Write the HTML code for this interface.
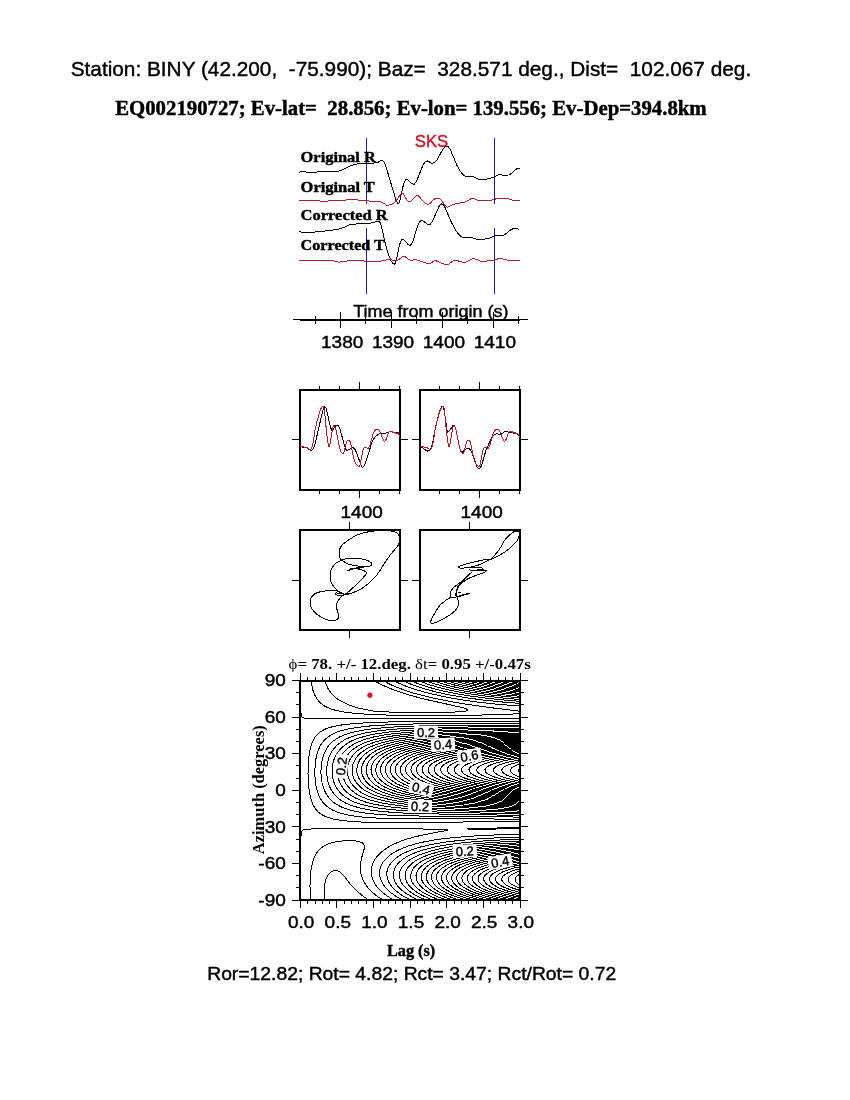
<!DOCTYPE html>
<html><head><meta charset="utf-8"><title>SKS splitting BINY</title>
<style>html,body{margin:0;padding:0;background:#fff}svg{display:block;will-change:transform}</style></head>
<body>
<svg width="850" height="1100" viewBox="0 0 850 1100">
<rect width="850" height="1100" fill="#fff"/>
<text x="70.7" y="75.9" xml:space="preserve" text-anchor="start" fill="#000" stroke="#000" stroke-width="0.42" style="font-family:'Liberation Sans',sans-serif;font-size:20.8px;white-space:pre" textLength="680.5" lengthAdjust="spacingAndGlyphs">Station: BINY (42.200,  -75.990); Baz=  328.571 deg., Dist=  102.067 deg.</text>
<text x="115.2" y="114.5" xml:space="preserve" text-anchor="start" fill="#000" stroke="#000" stroke-width="0.42" style="font-family:'Liberation Serif',serif;font-weight:bold;font-size:20.0px;white-space:pre" textLength="591.5" lengthAdjust="spacingAndGlyphs">EQ002190727; Ev-lat=  28.856; Ev-lon= 139.556; Ev-Dep=394.8km</text>
<g fill="none" stroke-width="1" shape-rendering="crispEdges">
<path d="M366.5,137.5V203.5M494.5,137.5V203.5M366.5,228V293.5M494.5,228V293.5" stroke="#2b1b9b"/>
<path d="M299.2,172.1 302.7,171.3 306.9,172.1 309.5,172.2 330,171.7 338,171.2 340.9,170.4 351,165.7 354.9,164.3 357.8,163.9 367.2,163.5 376.3,162.8 378.5,162.1 381.3,160.1 382.3,160.2 384.1,161.9 385.5,165.3 395.4,197.9 397.3,203 398.2,203.9 398.8,203.2 399.6,201.5 403.3,185.2 404.4,182 405.6,180 406.3,179.4 407.1,179.3 411.3,183.3 413.2,184.3 414.2,184.2 415.5,182.6 417,180 421.8,168 423.5,164.3 424.6,162.4 425.7,161.4 427.4,161 428.5,161.4 431.3,163.2 432.1,163.5 433,163.2 435,162 436.3,160.7 437.3,159.4 443,149 444.5,147.2 446.4,146 447.2,146 447.9,146.4 450,148.9 456.9,165.2 459.9,171 462.8,174.4 464.4,175.8 466,176.7 467.6,177 473.5,176.7 479.4,179.5 481,179.9 482.6,179.9 487,179 493.2,177.3 494.9,176.7 497,175.3 499.4,174.3 500.3,174.2 501.8,174.9 503.6,175.2 508.7,175 510.7,173.9 516.8,168.6 518.1,168.2 519.6,168.2" stroke="#000"/>
<path d="M299.2,231.7 304.1,232.7 307.6,232.7 323,231.3 334.1,229.9 340.8,228.6 345,226.9 348.3,225.2 350.4,224.6 358.3,223.8 368.3,223.8 377.8,221.1 379,221.1 379.6,221.8 380.5,223.6 381.3,226.1 386.3,247.4 387.9,252.8 391.1,260.9 392.6,263.2 394.1,264.3 394.4,264.3 394.9,263.7 396.2,260.8 399.2,245.8 400.3,242.6 401.8,239.8 402.5,239 403.3,239 408.3,244.7 409.6,245.4 410.6,245 411.9,243.3 412.9,241.2 417.5,226.4 418.4,224.1 419.6,222.1 420.7,220.8 421.8,220.4 422.6,220.8 427.3,224 429.1,224.5 430.2,224.2 431.5,222.6 433,220.1 439.2,206.1 440.2,204.6 441.6,204 442.8,204.2 444.3,205.8 450.9,221.4 456,230.9 459.5,235.2 461.1,236.7 462.8,237.6 466.7,238 471.6,237.4 476.6,239.1 480.7,239.3 484.5,239.1 490.5,237.9 494.2,235.8 495.2,235.5 502.8,235.2 504.3,234.9 506.5,233.3 509.8,230.4 511.4,229.5 513.8,228.5 514.9,228.3 516.5,228.5 518,229 519.6,230.2" stroke="#000"/>
<path d="M299.2,200.3 312.1,200.5 325,201.3 332,200.6 341.2,200.8 349.6,199.3 351.8,199.2 362,200.6 380.5,201.7 383,202.8 386.1,205 387.6,205.4 389,205.1 392.1,204 394.5,202.5 396.9,199.6 400.7,194.2 401.4,193.4 402,193 402.6,193.2 403.2,193.8 407,200 407.6,200.6 408.7,201.3 409.9,201.3 411.1,200.9 415.6,196.2 416.3,195.6 417,195.3 418.4,196 424.6,202.5 426.2,203.6 427.7,204.3 428.4,204.4 429.5,203.9 433.4,199.8 434.6,199 437.9,198.3 439,198.4 439.6,198.7 440.9,199.9 446.4,206.6 447.2,207.2 447.8,207.3 452.8,204.4 458,203.3 463,202.7 465.1,202.1 471,198.7 472.6,198.1 474,198.5 477.7,200.3 479.2,200.6 492.4,200 497.4,198.4 503.5,198.1 507.4,198.3 512.5,200.1 514.9,200.6 519.6,200.6" stroke="#b8182a"/>
<path d="M299.2,260.9 318.2,260.4 329.7,260.6 333.4,260.8 337.3,261.9 339.4,262.1 348.2,260.8 358.5,260.4 361.4,260.5 366.9,261.6 378.9,261.2 381.6,261 387.4,259.8 389.5,259.6 392,259.9 394.6,260.7 396.4,260.9 397.9,260.3 402.4,256.9 403.9,256.2 405.1,256.6 408.9,259.6 410.1,260.1 417.1,259.9 425.6,262.9 428.5,263.3 430.4,263.2 431.7,262.9 433.7,261 434.9,260.5 436,260.8 440.7,262.8 443.7,263.9 447.2,264.6 448.7,264.1 452.4,261.2 453.8,260.5 455.5,260.4 457.5,260.7 463,262.3 464.1,262.4 466.1,261.9 471.8,259.2 473.5,258.6 474.9,258.8 480.1,261.1 482.1,261.4 492.4,260.5 497.5,259 499.9,258.6 501.7,258.8 509.3,260.5 519.6,260.5" stroke="#b8182a"/>
</g>
<text x="300.6" y="161.8" xml:space="preserve" text-anchor="start" fill="#000" stroke="#000" stroke-width="0.42" style="font-family:'Liberation Serif',serif;font-weight:bold;font-size:15.4px;white-space:pre" textLength="75.2" lengthAdjust="spacingAndGlyphs">Original R</text>
<text x="300.6" y="191.8" xml:space="preserve" text-anchor="start" fill="#000" stroke="#000" stroke-width="0.42" style="font-family:'Liberation Serif',serif;font-weight:bold;font-size:15.4px;white-space:pre" textLength="74.2" lengthAdjust="spacingAndGlyphs">Original T</text>
<text x="300.6" y="219.7" xml:space="preserve" text-anchor="start" fill="#000" stroke="#000" stroke-width="0.42" style="font-family:'Liberation Serif',serif;font-weight:bold;font-size:15.4px;white-space:pre" textLength="87.1" lengthAdjust="spacingAndGlyphs">Corrected R</text>
<text x="300.6" y="249.6" xml:space="preserve" text-anchor="start" fill="#000" stroke="#000" stroke-width="0.42" style="font-family:'Liberation Serif',serif;font-weight:bold;font-size:15.4px;white-space:pre" textLength="84.3" lengthAdjust="spacingAndGlyphs">Corrected T</text>
<text x="414.8" y="147.3" xml:space="preserve" text-anchor="start" fill="#cc1428" stroke="#cc1428" stroke-width="0.42" style="font-family:'Liberation Sans',sans-serif;font-size:16.6px;white-space:pre" textLength="33.3" lengthAdjust="spacingAndGlyphs">SKS</text>
<text x="353.2" y="316.8" xml:space="preserve" text-anchor="start" fill="#000" stroke="#000" stroke-width="0.42" style="font-family:'Liberation Sans',sans-serif;font-size:17.2px;white-space:pre" textLength="155.3" lengthAdjust="spacingAndGlyphs">Time from origin (s)</text>
<g stroke="#000" fill="none" shape-rendering="crispEdges">
<path d="M292.5,319.5H528" stroke-width="1"/>
<path d="M300,320H520" stroke-width="2"/>
<path d="M315.5,316V324M340.5,312V328M365.5,316V324M391.5,312V328M416.5,316V324M442.5,312V328M467.5,316V324M493.5,312V328M518.5,316V324" stroke-width="1"/>
</g>
<text x="321" y="348" xml:space="preserve" text-anchor="start" fill="#000" stroke="#000" stroke-width="0.42" style="font-family:'Liberation Sans',sans-serif;font-size:16.4px;white-space:pre" textLength="42.3" lengthAdjust="spacingAndGlyphs">1380</text>
<text x="371.9" y="348" xml:space="preserve" text-anchor="start" fill="#000" stroke="#000" stroke-width="0.42" style="font-family:'Liberation Sans',sans-serif;font-size:16.4px;white-space:pre" textLength="42.3" lengthAdjust="spacingAndGlyphs">1390</text>
<text x="422.8" y="348" xml:space="preserve" text-anchor="start" fill="#000" stroke="#000" stroke-width="0.42" style="font-family:'Liberation Sans',sans-serif;font-size:16.4px;white-space:pre" textLength="42.3" lengthAdjust="spacingAndGlyphs">1400</text>
<text x="473.7" y="348" xml:space="preserve" text-anchor="start" fill="#000" stroke="#000" stroke-width="0.42" style="font-family:'Liberation Sans',sans-serif;font-size:16.4px;white-space:pre" textLength="42.3" lengthAdjust="spacingAndGlyphs">1410</text>
<rect x="300" y="390" width="100" height="99.5" fill="none" stroke="#000" stroke-width="2" shape-rendering="crispEdges"/>
<path d="M319.5,386V390M319.5,489.5V494.0M339.5,386V390M339.5,489.5V494.0M359.5,382V390M359.5,489.5V498.0M379.5,386V390M379.5,489.5V494.0M399.5,386V390M399.5,489.5V494.0M292,439.5H300M400,439.5H408" stroke="#000" stroke-width="1" fill="none" shape-rendering="crispEdges"/>
<text x="340.5" y="518.3" xml:space="preserve" text-anchor="start" fill="#000" stroke="#000" stroke-width="0.42" style="font-family:'Liberation Sans',sans-serif;font-size:16.4px;white-space:pre" textLength="42.3" lengthAdjust="spacingAndGlyphs">1400</text>
<rect x="300" y="530" width="100" height="99.5" fill="none" stroke="#000" stroke-width="2" shape-rendering="crispEdges"/>
<path d="M349.5,522V530M349.5,629.5V638M292,580.5H300M400,580.5H408" stroke="#000" stroke-width="1" fill="none" shape-rendering="crispEdges"/>
<rect x="420" y="390" width="100" height="99.5" fill="none" stroke="#000" stroke-width="2" shape-rendering="crispEdges"/>
<path d="M439.5,386V390M439.5,489.5V494.0M459.5,386V390M459.5,489.5V494.0M479.5,382V390M479.5,489.5V498.0M499.5,386V390M499.5,489.5V494.0M519.5,386V390M519.5,489.5V494.0M412,439.5H420M520,439.5H528" stroke="#000" stroke-width="1" fill="none" shape-rendering="crispEdges"/>
<text x="460.5" y="518.3" xml:space="preserve" text-anchor="start" fill="#000" stroke="#000" stroke-width="0.42" style="font-family:'Liberation Sans',sans-serif;font-size:16.4px;white-space:pre" textLength="42.3" lengthAdjust="spacingAndGlyphs">1400</text>
<rect x="420" y="530" width="100" height="99.5" fill="none" stroke="#000" stroke-width="2" shape-rendering="crispEdges"/>
<path d="M469.5,522V530M469.5,629.5V638M412,580.5H420M520,580.5H528" stroke="#000" stroke-width="1" fill="none" shape-rendering="crispEdges"/>
<g fill="none" stroke-width="1" shape-rendering="crispEdges">
<path d="M300,446.6 306.4,447.7 310.1,450 311,450.3 312.2,449.8 313.3,448.5 314.5,445.5 316,440 322.5,411.7 323.7,408.4 324.8,406.7 325.7,407.2 326.4,408.9 330.1,425.5 331,428.6 331.9,430.4 332.4,430.8 332.7,430.6 334.7,427 335.9,425.6 337.1,425 337.8,425.2 338.2,425.6 339.3,427.5 340.4,430.4 344.7,446.6 345.9,449.5 346.9,450.2 348.4,450 349.2,449.6 351.9,447.2 352.8,447.4 354.3,448.6 355.2,449.9 356.5,452.4 360.8,464.5 361.9,466.8 362.5,467.4 363.1,467.2 363.9,466.4 366,461.4 372.2,441.5 373.9,438.6 376.2,435.9 377.9,434.6 380.6,433.2 385.9,433.1 390.5,431.6 395.1,432.4 399.7,432.8" stroke="#000"/>
<path d="M300,446.6 306.4,447.3 310.2,449.6 310.8,449.3 311.9,447.8 312.8,444.4 315.1,429.6 316.8,422.1 320.2,410.2 321.4,407.7 322,406.8 322.6,406.4 323.4,406.7 324.3,408.9 326.9,435.6 328.1,443.7 329,446.9 329.2,446.9 329.5,446.3 330.4,442.1 332.7,427.8 333.3,426.1 333.8,425.3 334.2,425.2 334.9,426.4 335.7,428.5 339.3,446.9 340.9,452 342.2,453.5 342.7,453.5 343.4,453.1 344.2,451.3 345.9,444.1 346.8,441.5 347.4,440.5 347.9,440 349.1,440.3 350,441.5 350.8,443.8 353.4,456.7 354.6,461 356.2,464.3 357.6,465.9 358.5,466.6 359.2,466.5 360.2,464.5 362.7,450.9 363.3,449.1 364.2,447.8 365,447.2 365.7,447.3 368,448.5 368.7,448 369.9,445.2 373.3,433.4 374.5,431 375.7,429.7 377.4,429.3 378.5,429.6 379.1,430.1 380.6,433 383.3,440 383.9,441 384.4,441.5 385,441.2 385.9,439.8 388.4,432.7 389,431.9 389.7,431.5 391.2,431.6 398.2,433.9 398.7,434.4 399.7,437.4" stroke="#b8182a"/>
<path d="M420,446.6 422.1,447.5 425.7,450.2 427.4,451 427.9,451 429,450.5 430.9,448.2 432.3,444.4 435.6,427 438.3,415.4 440.3,409.1 441.3,407.2 442.2,406.4 442.8,406.6 443.3,407.4 444.2,410.3 447.1,430.2 447.5,431.9 447.8,432.5 450.1,429.8 452.8,425.8 453.6,425.2 454,425.4 454.9,427 455.9,429.5 459.3,446.9 460,449.3 460.9,451.4 461.5,452.1 462.3,452.1 466.2,449 467.8,448.4 468.9,448.5 470,449.3 471.1,450.8 471.9,452.3 476.2,465 477.3,467.3 478.4,468.3 480,468.1 481,466.6 482,464.1 485.7,451.1 486.9,448 491.5,438.4 492.9,436.2 494.4,434.7 495.9,433.9 496.8,433.6 500.1,434.8 500.6,434.7 503.6,432.3 505.7,431.5 509,432.4 514.4,433.3 517.2,434.2 518.2,434.7 519.7,436.9" stroke="#000"/>
<path d="M420,446.6 426.4,447.3 430.2,449.6 430.8,449.3 431.9,447.8 432.8,444.4 435.1,429.6 436.8,422.1 440.2,410.2 441.4,407.7 442,406.8 442.6,406.4 443.4,406.7 444.3,408.9 446.9,435.6 448.1,443.7 449,446.9 449.2,446.9 449.5,446.3 450.4,442.1 452.7,427.8 453.3,426.1 453.8,425.3 454.2,425.2 454.9,426.4 455.7,428.5 459.3,446.9 460.9,452 462.2,453.5 462.7,453.5 463.4,453.1 464.2,451.3 465.9,444.1 466.8,441.5 467.4,440.5 467.9,440 469.1,440.3 470,441.5 470.8,443.8 473.4,456.7 474.6,461 476.2,464.3 477.6,465.9 478.5,466.6 479.2,466.5 480.2,464.5 482.7,450.9 483.3,449.1 484.2,447.8 485,447.2 485.7,447.3 488,448.5 488.7,448 489.9,445.2 493.3,433.4 494.5,431 495.7,429.7 497.4,429.3 498.5,429.6 499.1,430.1 500.6,433 503.3,440 503.9,441 504.4,441.5 505,441.2 505.9,439.8 508.4,432.7 509,431.9 509.7,431.5 511.2,431.6 518.2,433.9 518.8,434.4 519.7,437.4" stroke="#b8182a"/>
<path d="M347.4,570.6 353,569.1 354.4,568.8 356.9,568.8 360.3,569.4 363.4,570.4 365.5,571.6 366.2,572.4 366.3,572.9 366.2,573.5 365.3,575.1 361.5,579.5 352.6,588.1 348.5,591.8 345.5,593.9 345.6,594.1 346.3,594.1 348.9,593.8 352.1,592.9 356.9,591.1 360.3,589.4 363.6,587.3 368.5,583.5 373,579.3 376.7,575.2 380.3,570 385,562.4 388.5,557.4 390.9,554.1 395.8,548.3 398.1,545.3 398.8,543.8 399.1,542.9 399.5,540.6 399.5,537.1 399,535.4 398.7,534.7 397.7,533.5 397,533 395.3,532.1 392.2,531.2 388.8,530.8 381.9,530.6 376.1,530.8 370.5,531.4 366.5,532.2 362.1,533.3 357.9,534.7 354,536.6 350.2,538.9 345.3,542.3 342.5,544.7 341.5,545.9 340.7,547.1 339.6,549.5 339,552.9 339,555.1 339.5,557.1 340.4,558.7 341.8,560.1 343.6,561.5 347.2,563.6 350,564.6 355.1,565.6 360.2,566.3 365,566.5 367.5,566.4 369.5,566.1 370.3,565.9 371.4,565.3 371.7,564.9 371.8,564.1 371.4,563.1 371,562.6 369.7,561.5 367.7,560.6 365.2,559.8 362.3,559.1 359,558.6 355.6,558.2 352.2,558.2 347.4,558.6 344.4,559.2 341.6,560 337.7,562 335.4,563.7 334.4,564.7 333.5,565.8 332,568.1 330.9,570.6 330.3,573.2 330,575.8 330.2,578.3 330.6,580.7 332,584.1 333.4,586.2 335,588.2 337,590.1 339.2,591.7 341.4,592.9 344.6,594.2 346.5,594.6 349.1,594.7 339.1,595.3 336.6,594.9 335.6,594.5 335.4,594.2 335.5,593.4 335.8,593.1 336.8,592.9 345.6,594.5" stroke="#000"/>
<path d="M349.1,594.1 344.9,594.4 343,595.1 341.6,596.2 340.3,597.6 339,599.4 337.8,601.3 337,603.4 336.5,606.6 336.7,608.6 337.9,612.4 338.6,615.7 338.5,617.6 337.7,619 336.4,620 334.6,620.6 332.3,620.7 329.7,620.4 325.4,619.2 321.4,617.3 317.8,615 315.7,613.1 313.7,611 312.1,608.8 311.5,607.8 311,606.7 310.4,604.6 310.2,601.4 310.5,599.2 310.9,598.2 312,596.4 313.5,594.8 314.4,594.1 315.4,593.5 317.7,592.5 321.8,591.4 328.5,590.6 331.8,590.4 334.9,590.5 337.3,590.9 340.3,592.4" stroke="#000"/>
<path d="M349.1,569.1 356.8,567.9 363.8,567.4M353,568H360" stroke="#000"/>
<path d="M455.5,596.5 456,592.7 457.2,589.2 459.5,585.6 460.5,584.5 463,582.1 466.3,579.7 468.2,578.6 470.5,577.5 484.2,572.5 485.2,571.9 486.6,570.3" stroke="#000"/>
<path d="M486.6,570.3 471.1,570.3 469.2,569.9 472.9,570.3 483.8,569.6 481.4,567.3 467.3,567.8 460.2,568.2 458.4,567.3 459.8,565.9" stroke="#000"/>
<path d="M459.8,565.9 471.1,562.6 484.2,559.8 490.8,559.3" stroke="#000"/>
<path d="M460.2,568.2 468.2,567.8 477.6,565.4 485.2,562.1 490.8,559.3" stroke="#000"/>
<path d="M490.8,559.3 495.3,554.5 498.5,550.6 501.2,546.6 503.9,541.5 505.6,539 509.8,534.9 512.4,532.7 513.6,531.9 515.7,531.1 517.5,531 518.2,531.2 518.7,531.5 519.1,532.6 519.2,534 519.1,535.6 518.4,538.6 517.6,540 515.3,542.8 509.2,548.6 505.9,551.3 504.1,552.5 496.5,556.9 490.8,559.3 484,562.5" stroke="#000"/>
<path d="M472,572 463.5,580 456.1,585.5 454.1,587.1 452.8,588.4 451.9,589.5 450.8,591.8 450.5,593.2 450.4,597.4" stroke="#000"/>
<path d="M470.6,572.9 462.1,581.7 458,586.3 457.4,587.5 456.8,589.6 456.3,593.3 456,596.9" stroke="#000"/>
<path d="M456,597 451.6,597.3 449.4,598 447.5,599.1 445.6,600.5 441.1,604.2 440,605.3 438.1,607.8 432.7,616.8 431.3,619.6 430.7,621.5 430.6,622.2 430.7,622.8 431,623.2 431.6,623.4 432.5,623.4 435.6,622.7 437.3,622 444.4,618.3 449.6,615.2 452.2,613.4 455.7,610.1 457.4,607.8 457.9,606.6 458.2,605.5 458.4,603.1 458.3,601.2 458.2,600.3 456,593" stroke="#000"/>
<path d="M469.6,592.9L457.4,596.5M469.6,593.4L458,597M458.4,592.5H461" stroke="#000"/>
</g>
<clipPath id="cc"><rect x="300.4" y="680.6" width="219.60000000000002" height="219.39999999999998"/></clipPath>
<path d="M325.1,900 324.2,894.5 324.1,889 324.6,884.2 326,879.3 327.8,875.5 329.7,873.2 331.5,871.7 333.3,870.8 335.2,870.5 337,870.6 338.8,871.3 340.7,872.5 342.5,874.2 344.3,876.4 350.4,884.2 356,890.2 361.6,895.1 368.6,900M374.1,680.6 380.7,684.3 388.2,687.7 395.6,690.6 404.7,693.7 415.7,696.8 426.7,699.6 461.7,707.4 465.9,708.6 467.8,709.9 465.5,711.1 454.1,712.1 439.5,712.6 423,712.8 395.6,712.3 384.6,711.8 373.8,711.1 362.6,709 357.1,707.7 353.5,706.6 349.2,705 341.6,701.3 337.4,698.9 334.2,696.4 330.8,692.8 328.3,689.1 326.1,684.3 325.1,680.6M310.9,900 310.3,893.9 310,886.6 310.1,879.3 310.7,872 311.7,865.9 313.2,860.3 314.9,856.1 316.9,852.7 319,850 321.7,847.6 324.2,845.9 328.4,843.9 333.3,842.4 337.8,841.5 344.3,840.8 349.8,840.6 355.3,840.9 359,841.6 360.8,842.2 362.6,843.1 363.5,843.9 364.2,845.1 364.5,846.4 364.2,848.8 361.4,858.6 360.4,864.7 360.3,868.3 360.5,870.7 361.1,874.4 361.8,876.8 363.3,880.5 364.6,882.9 367.1,886.6 369.1,889 372.8,892.7 375.7,895.1 379.1,897.6 383,900M520,713.7 497.7,714.7 472.4,715.2 439.5,715.6 410.2,715.5 388.2,715.1 369.9,714.4 356.3,713.5 344.3,712.1 337,710.7 333.3,709.7 329.7,708.4 327.3,707.4 324.2,705.8 322.4,704.5 320,702.5 318.7,701.2 316.9,698.8 315.5,696.4 314.3,694 313.2,691.1 312.3,687.9 310.9,680.6M383,680.6 387.5,683 392.6,685.5 398.5,687.9 404.7,690.2 412,692.6 419.3,694.7 434,698.2 452.3,701.9 468.8,704.6 492.6,707.9 520,711.2M300.5,900 300.7,840.3 301.2,833 301.5,831.7 302.2,830.5 304.1,829.6 305.8,829.3 311.4,829 360.8,828.8 412,828.9 441.3,829.2 446.3,829.3 446.8,829.5 447.8,830.5 443.1,831.1 440.4,831.7 435.8,832.4 423,834.9 412,837.6 404.7,839.8 401,841.1 393.7,844.2 390.1,846.1 386.4,848.3 383.9,850 380.9,852.5 378.4,854.9 376.3,857.3 374.6,859.8 373.3,862.2 372.4,864.7 371.5,868.3 371.2,870.7 371.4,874.4 372.2,878.1 373.1,880.5 374.3,882.9 376.8,886.6 378.8,889 381.3,891.5 384.2,893.9 387.5,896.3 393.7,900M520,718.8 327.8,718.8 309.5,718.6 305.9,718.3 304.1,718 302.2,717.1 301.5,715.9 301,713.5 300.6,705 300.5,680.6M393.7,680.6 398.5,683 404.1,685.5 415.7,689.6 428.5,693.2 445,696.9 459.6,699.5 477.9,702.1 498,704.3 520,706M520,834.4 496.2,834.9 472.4,836.1 454.1,837.5 437.6,839.4 424.8,841.7 413.9,844.3 408.4,846 404,847.6 399.2,849.6 395.6,851.5 391.9,853.8 388.2,856.6 385,859.8 383.1,862.2 381.7,864.7 380.2,868.3 379.6,872 379.8,875.6 380.6,879.3 382.3,882.9 383.8,885.4 386.9,889 390.9,892.7 394.2,895.1 398.1,897.6 402.7,900M520,721.4 430.3,721.5 404.7,721.7 382.8,722.1 366.3,722.8 351.6,723.8 340.7,725.1 333.3,726.5 329.7,727.5 326,728.8 322.4,730.6 320.5,731.7 318.7,733.2 316.9,734.9 315.4,736.7 313.9,739.1 312.6,741.5 311.3,745.2 310.3,748.9 309.5,752.5 308.8,757.4 308.4,762.3 308,773.2 308.4,784.2 309.5,792.7 310.2,796.4 311.2,800.1 312.5,803.7 313.7,806.1 315.2,808.6 316.9,810.6 318.5,812.2 320.5,813.8 322.4,814.9 326,816.7 329.7,818 333.3,819 340.7,820.3 351.6,821.5 364.4,822.2 379.1,822.6 408.4,822.7 479.7,821.8 520,821.8M402.7,680.6 412,684.7 423,688.4 435.8,691.9 448.6,694.7 463.3,697.3 479.7,699.6 499.9,701.8 520,703.4M520,837.1 496.2,837.9 477.9,838.9 457.8,840.6 443.1,842.4 430.3,844.7 419.3,847.3 410.2,850.4 405.3,852.5 401,854.7 397,857.3 394,859.8 391.6,862.2 389,865.9 387.9,868.3 386.9,872 386.8,874.4 387.3,878.1 388.6,881.7 390,884.2 392.8,887.8 395.3,890.2 398.3,892.7 401.8,895.1 405.9,897.6 410.8,900M520,723.4 441.3,723.6 417.5,723.9 399.2,724.4 382.8,725.1 368.1,726.1 355.3,727.7 346.1,729.4 341.5,730.6 337.8,731.8 334.8,733 331.5,734.7 328.4,736.7 326,738.6 324.2,740.4 322.2,742.8 320.6,745.2 319.4,747.6 317.9,751.3 316.8,755 316,758.6 315.3,763.5 314.8,772 315.2,780.5 315.9,785.4 316.7,789.1 317.8,792.7 319.3,796.4 320.5,798.8 322.1,801.3 324.1,803.7 326,805.6 328.2,807.4 331.5,809.5 337,812 344.3,814.2 351.6,815.7 362.6,817.1 373.6,817.9 388.2,818.5 412,818.9 479.7,818.9 520,819.2M410.8,680.6 419.7,684.3 430.3,687.7 441.3,690.6 454.1,693.3 468.8,695.8 485.2,698 501.7,699.8 520,701.3M520,839.3 499.9,840 479.7,841.2 461.4,842.9 446.8,844.8 434,847.2 423,850 417.5,851.8 413.9,853.3 410.2,854.9 405.7,857.3 402.2,859.8 399.3,862.2 397.1,864.7 395.5,867.1 394.3,869.5 393.4,873.2 393.3,875.6 394,879.3 395,881.7 397.2,885.4 399.3,887.8 401.9,890.2 405,892.7 408.8,895.1 413.2,897.6 418.4,900M520,725.1 446.8,725.5 424.8,725.8 406.5,726.4 390.1,727.2 375.4,728.5 364.4,729.9 354.5,731.8 346.1,734.2 342.5,735.6 338.8,737.4 336,739.1 333.3,741 331.4,742.8 329.1,745.2 327.3,747.6 325.2,751.3 324.1,753.7 322.9,757.4 322,761 321.4,764.7 320.9,772 321.1,775.7 321.5,779.3 322.1,783 323.1,786.6 324.4,790.3 325.6,792.7 327,795.2 328.8,797.6 331,800.1 333.3,802.1 335.5,803.7 338.8,805.7 342.3,807.4 345.4,808.6 349.8,810 354,811 362.6,812.7 371.8,813.8 384.6,814.9 397.4,815.5 423,816.1 485.2,816.6 520,817.1M418.4,680.6 428,684.3 437.6,687.2 448.6,689.9 459.6,692.1 472.4,694.3 487.1,696.3 503.5,698.1 520,699.5M520,841.1 498,842.1 479.7,843.4 463.3,845 448.6,847.1 435.8,849.7 426,852.5 417.5,855.7 413.9,857.4 410.2,859.6 406.6,862.2 404,864.7 402.1,867.1 400.7,869.5 399.8,872 399.4,874.4 399.7,878.1 400.4,880.5 402.4,884.2 404.3,886.6 406.7,889 409.7,891.5 413.3,893.9 417.5,896.3 425.6,900M520,726.7 452.3,727.1 432.2,727.5 413.9,728.1 397.4,729 384.6,730.1 373.6,731.5 362.6,733.5 353.5,736.1 349.8,737.4 346.1,739.1 343.8,740.3 340.7,742.3 338.4,744 335.8,746.4 333.7,748.9 332,751.3 330.6,753.7 329,757.4 328.2,759.8 327.4,763.5 326.9,767.1 326.7,770.8 326.8,774.5 327.2,778.1 328,781.8 328.7,784.2 330.2,787.9 331.5,790.3 333.1,792.7 335,795.2 337.5,797.6 340.6,800.1 346.1,803.3 349.8,804.9 353.3,806.1 360.8,808.2 369.9,810 379.1,811.2 391.9,812.3 404.7,813.1 432.2,813.9 520,815.4M425.6,680.6 434,683.6 443.1,686.3 454.1,689 465.1,691.2 477.9,693.2 490.7,695 505.4,696.5 520,697.8M520,842.8 499.9,843.8 481.6,845.2 465.1,846.9 452.3,848.9 440.8,851.2 430.3,854.2 422.1,857.3 419.3,858.7 415.3,861 412,863.4 409.4,865.9 407.5,868.3 406.2,870.7 405.4,873.2 405.1,875.6 405.6,879.3 406.6,881.7 408,884.2 410,886.6 412.5,889 415.7,891.5 419.5,893.9 424.1,896.3 432.6,900M520,728.1 454.1,728.7 434,729.2 417.5,729.8 401,730.9 388.2,732.1 377.3,733.6 368.1,735.4 359.3,737.9 353,740.3 349.8,741.9 346.4,744 341.8,747.6 339.5,750.1 337.6,752.5 336.1,755 334.9,757.4 333.9,759.8 332.9,763.5 332.3,767.1 332.1,770.8 332.3,774.5 332.6,776.9 333.4,780.5 334.2,783 335.3,785.4 337,788.5 338.8,791 340.7,793.1 342.8,795.2 346,797.6 351.6,800.8 355.3,802.4 359,803.7 366.3,805.7 375.4,807.6 384.6,808.9 397.4,810.1 410.2,810.9 439.5,812.1 520,813.9M432.6,680.6 439.7,683 448.6,685.6 457.8,687.8 468.8,690 479.7,691.8 492.6,693.5 505.4,695 520,696.3M520,844.4 499.9,845.5 483.4,846.8 468.8,848.5 455.9,850.4 445,852.7 439.5,854.2 434,855.9 426.7,858.8 422.3,861 419.3,862.8 416.9,864.7 414.4,867.1 412.6,869.5 411.4,872 410.8,874.4 410.7,876.8 411.1,879.3 412,881.7 413.5,884.2 415.6,886.6 418.2,889 421.5,891.5 425.5,893.9 430.3,896.3 439.5,900M520,729.4 459.6,730.1 439.5,730.6 423,731.3 406.5,732.4 393.7,733.7 382.8,735.2 373.6,737 365.9,739.1 359,741.6 355.3,743.4 352.1,745.2 349.8,746.7 347.2,748.9 344.7,751.3 342.7,753.7 341.2,756.2 339.9,758.6 338.9,761 337.9,764.7 337.5,767.1 337.3,770.8 337.5,774.5 337.9,776.9 339.4,781.8 340.6,784.2 342,786.6 343.8,789.1 346.1,791.6 350.6,795.2 353.5,796.9 357.1,798.8 364.4,801.7 373.6,804.1 382.8,805.8 391.9,807.1 402.9,808.2 417.5,809.2 446.8,810.4 520,812.4M439.5,680.6 447.1,683 455.9,685.4 465.1,687.4 474.2,689.2 485.2,690.9 496.2,692.4 520,694.8M520,845.8 501.7,846.9 485.2,848.3 470.6,850.1 457.8,852.2 446.8,854.6 437.6,857.4 434,858.8 429.1,861 426.7,862.3 423.2,864.7 421.2,866.3 419.2,868.3 417.5,870.7 416.5,873.2 416,875.6 416.1,878.1 416.8,880.5 418,882.9 419.8,885.4 422.2,887.8 425.3,890.2 428.5,892.3 432.2,894.3 436.5,896.3 446.2,900M520,730.6 461.4,731.5 443.1,732 426.7,732.8 412,733.8 399.2,735.1 388.2,736.6 379.1,738.4 369.9,740.9 362.6,743.7 357.1,746.5 352.2,750.1 349.6,752.5 347.6,755 345.9,757.4 344.7,759.8 343.7,762.3 343,764.7 342.5,767.1 342.3,770.8 342.6,774.5 343.1,776.9 343.9,779.3 344.9,781.8 346.3,784.2 348,786.6 351.6,790.4 356.4,794 359,795.5 362.6,797.2 370.2,800.1 379.1,802.4 388.2,804.1 397.4,805.4 410.2,806.7 423,807.6 454.1,809 520,811.1M446.2,680.6 454.1,683 461.4,684.8 468.8,686.4 477.9,688.2 487.1,689.6 498,691.1 520,693.5M520,847.2 503.5,848.3 487.1,849.8 472.4,851.6 460.5,853.7 450,856.1 441.3,858.8 437.6,860.3 433.5,862.2 430.3,864 427.7,865.9 426.2,867.1 423.9,869.5 422.3,872 421.5,874.4 421.2,876.8 421.5,879.3 422.5,881.7 424,884.2 426.2,886.6 429.1,889 434.8,892.7 442.6,896.3 452.9,900M520,731.8 465.1,732.8 446.8,733.4 432.2,734 417.5,735 404.7,736.3 393.7,737.8 384.6,739.6 375.4,742 368.1,744.6 362.1,747.6 359,749.7 356.8,751.3 353.1,755 351.3,757.4 349.8,759.8 348.7,762.3 348,764.7 347.5,767.1 347.2,770.8 347.4,773.2 347.9,775.7 348.6,778.1 349.7,780.5 351,783 352.9,785.4 356.5,789.1 359,791 361.7,792.7 364.4,794.2 368.1,795.9 375.4,798.6 382.8,800.5 391.9,802.3 401.4,803.7 413.9,805 426.7,806.1 457.8,807.6 520,809.8M452.9,680.6 459.6,682.5 466.8,684.3 481.6,687.2 499.9,689.9 520,692.1M520,848.6 503.5,849.8 488.2,851.2 474.2,853.1 463.3,855.1 453.8,857.3 445,860.2 441.3,861.7 437.6,863.4 434,865.6 432,867.1 430.3,868.6 428.5,870.7 427.1,873.2 426.4,875.6 426.4,878.1 427,880.5 428.3,882.9 429.2,884.2 431.4,886.6 434.4,889 440.4,892.7 448.6,896.3 454.1,898.3 459.7,900M520,733 466.9,734 448.6,734.7 434,735.4 421.2,736.4 408.4,737.7 397.4,739.3 388.2,741.1 379.1,743.5 371.8,746.3 366.3,749 361.2,752.5 357.5,756.2 355.7,758.6 354.3,761 353.2,763.5 352.5,765.9 352.1,768.4 352.1,770.8 352.3,773.2 352.8,775.7 353.7,778.1 354.9,780.5 357.5,784.2 361.2,787.9 366.3,791.3 371.8,794.1 379.1,796.8 388.2,799.2 397.4,801 406.5,802.3 417.5,803.5 430.3,804.6 461.4,806.4 520,808.6M459.7,680.6 472.4,683.8 485.2,686.3 501.7,688.8 520,690.8M520,849.9 503.5,851.2 488.9,852.7 476.1,854.6 465.1,856.7 454.1,859.5 446.7,862.2 443.1,863.9 439.5,865.9 435.8,868.7 433.9,870.7 432.3,873.2 431.8,874.4 431.4,876.8 431.7,879.3 432.6,881.7 434,883.8 435.3,885.4 437.6,887.5 439.7,889 443.7,891.5 446.8,893.1 454.7,896.3 459.6,898 466.5,900M520,734.1 468.8,735.3 452.3,735.9 437.6,736.7 424.8,737.6 412,739 402.7,740.3 393.7,742 385.9,744 378.6,746.4 373.1,748.9 369.9,750.6 367,752.5 362.8,756.2 359.9,759.8 358.6,762.3 357.7,764.7 357.1,767.1 356.8,769.6 356.9,772 357.4,774.5 358.2,776.9 359,778.6 360.1,780.5 361.9,783 365.8,786.6 368.1,788.4 371.3,790.3 376.3,792.7 382.9,795.2 391.8,797.6 401,799.5 410.2,800.9 421.2,802.1 434,803.3 465.1,805.1 520,807.5M466.5,680.6 477.9,683.3 490.7,685.7 505.4,687.9 520,689.5M520,851.2 504.9,852.5 490.7,854 477.9,856 466.9,858.2 457.8,860.7 450.4,863.4 446.8,865.2 443.6,867.1 441.9,868.3 439.5,870.5 438.3,872 437,874.4 436.6,875.6 436.5,878.1 437.1,880.5 438.4,882.9 440.4,885.4 441.7,886.6 445,889 446.9,890.2 450.5,892.1 454.4,893.9 463.3,897.2 473.4,900M520,735.1 472.4,736.4 455.9,737 441.3,737.8 428.5,738.8 415.7,740.2 406.5,741.6 397.4,743.3 390,745.2 382.7,747.6 377.1,750.1 373.6,752.1 371.1,753.7 367,757.4 364.2,761 362.5,764.7 361.8,767.1 361.6,769.6 361.7,772 362.2,774.5 363.7,778.1 366.3,781.8 370.1,785.4 375.4,788.9 380.8,791.5 388.2,794.2 396.5,796.4 404.7,798.1 413.9,799.5 424.8,800.8 437.6,802 468.8,804 520,806.4M473.4,680.6 483.4,682.9 494.4,684.9 506.7,686.7 520,688.3M520,852.5 505.4,853.8 490.7,855.6 479.7,857.4 468.6,859.8 460.3,862.2 455.9,863.8 452.3,865.5 447.5,868.3 445,870.5 443.6,872 442.8,873.2 441.7,875.6 441.5,878.1 442,880.5 443.1,882.6 444.3,884.2 446.8,886.5 448.4,887.8 452.3,890.2 454.6,891.5 461.4,894.4 470.6,897.5 480.4,900M520,736.2 474.2,737.5 445,739 432.2,740 421.2,741.2 412,742.5 402.9,744.1 395.6,745.9 388.2,748.2 382.8,750.5 376.8,753.7 375.1,755 372.2,757.4 369.1,761 367.2,764.7 366.6,767.1 366.3,769.6 366.4,772 367,774.5 368.7,778.1 371.6,781.8 375.4,785.1 379.9,787.9 386.4,790.9 393.7,793.4 400.7,795.2 410.2,797.1 419.3,798.5 430.3,799.8 441.3,800.8 470.6,802.8 520,805.3M480.4,680.6 488.9,682.4 499.4,684.3 509,685.7 520,687M520,853.8 505.4,855.2 492.6,856.9 481.6,858.7 471.6,861 463.3,863.6 459.6,865 455.9,866.8 451.6,869.5 450.1,870.7 448,873.2 447.3,874.4 446.6,876.8 446.5,878.1 447.1,880.5 448.4,882.9 449.4,884.2 452,886.6 453.7,887.8 455.9,889.2 460.2,891.5 466.9,894.2 477.5,897.6 487.6,900M520,737.2 476.1,738.6 446.8,740.2 435.8,741.1 424.8,742.3 415.7,743.6 406.5,745.3 399.2,747.1 391.9,749.4 386.4,751.7 380.7,755 379,756.2 376.2,758.6 375.1,759.8 373.3,762.3 371.6,765.9 371,769.6 371.5,773.2 373,776.9 375.7,780.5 377.3,782 380,784.2 384.6,787 390.1,789.5 397.4,792 404.7,794 413.9,795.8 423,797.3 434,798.6 445,799.7 474.2,801.8 520,804.2M487.6,680.6 501.7,683.2 520,685.8M520,855.1 507.2,856.4 494.4,858.1 483.4,860.1 474.2,862.3 466.9,864.7 463.3,866.2 459.6,868 455.6,870.7 454.1,872.2 452.5,874.4 452,875.6 451.6,878.1 452.1,880.5 452.7,881.7 454.1,883.7 455.7,885.4 457.8,887 460.9,889 465.1,891.2 468.7,892.7 475.6,895.1 484.2,897.6 495.1,900M520,738.2 477.9,739.7 450.5,741.3 439.5,742.2 428.5,743.4 419.3,744.7 410.3,746.4 402.9,748.2 395.6,750.6 390.1,752.9 384.5,756.2 380.9,759.1 378.2,762.3 377.3,763.9 376.4,765.9 376.1,767.1 375.8,769.6 376,772 376.3,773.2 377.3,775.7 378,776.9 379.1,778.4 380.9,780.5 384,783 388.2,785.7 393.7,788.2 401,790.8 408.4,792.8 415.7,794.3 424.8,795.8 435.8,797.3 446.8,798.4 474.2,800.6 520,803.2M495.1,680.6 507.2,682.7 520,684.5M520,856.4 507.2,857.8 494.4,859.7 485.2,861.5 476.1,863.9 468.8,866.6 465.1,868.3 463,869.5 459.6,872.2 457.8,874.4 457.2,875.6 456.8,876.8 456.8,879.3 457.8,881.7 458.6,882.9 460.9,885.4 462.5,886.6 466.4,889 470.6,891.1 474.2,892.6 481.9,895.1 491.1,897.6 502.9,900M520,739.2 479.7,740.8 452.3,742.4 441.3,743.4 430.3,744.7 421.2,746.1 413.9,747.5 406.5,749.4 400.4,751.3 394.5,753.7 390.1,756.2 386.4,758.8 384.6,760.6 383.2,762.3 382.4,763.5 381.2,765.9 380.8,767.1 380.5,769.6 380.8,772 381.1,773.2 382.2,775.7 383.9,778.1 385.1,779.3 388.2,782 391.9,784.3 397.4,787 403.1,789.1 412,791.6 419.3,793.2 428.5,794.7 439.5,796.2 450.5,797.4 477.9,799.6 520,802.1M502.9,680.6 520,683.3M520,857.7 507.2,859.3 496.2,861 485.2,863.4 477.9,865.6 471.2,868.3 467,870.7 464.1,873.2 463.2,874.4 462.5,875.6 462.1,876.8 461.9,878.1 462,879.3 462.3,880.5 463.3,882.2 464.8,884.2 466.9,885.9 469.7,887.8 474.4,890.2 480.5,892.7 488.9,895.3 498.2,897.6 511,900M520,740.2 481.6,741.8 455.9,743.4 445,744.4 434,745.8 424.8,747.2 417.5,748.6 410.2,750.5 403.8,752.5 398.1,755 393.8,757.4 390.1,760.3 388.2,762.3 387.4,763.5 386.1,765.9 385.7,767.1 385.4,769.6 385.7,772 386,773.2 387.2,775.7 388.2,777.1 390.1,779 393.5,781.8 397.7,784.2 403.2,786.6 410.2,789 417.5,790.9 424.8,792.4 434,793.9 443.3,795.2 454.3,796.4 479.7,798.5 520,801.1M511,680.6 520,682M520,859.1 507.2,860.8 498,862.4 488.1,864.7 480.4,867.1 474.9,869.5 471.1,872 468.6,874.4 467.9,875.6 467.4,876.8 467.2,878.1 467.2,879.3 467.6,880.5 468.2,881.7 470.1,884.2 472.4,886 475.2,887.8 480.2,890.2 486.7,892.7 496.2,895.4 505.7,897.6 519.6,900M520,741.2 483.4,742.9 457.8,744.6 446.8,745.7 437.6,746.8 428.5,748.2 421.2,749.7 413.9,751.5 407.2,753.7 401.7,756.2 397.6,758.6 394.6,761 392.4,763.5 391,765.9 390.6,767.1 390.3,769.6 390.6,772 391,773.2 392.3,775.7 393.7,777.4 395.6,779.1 399.2,781.7 403.9,784.2 408.4,786 413.9,787.9 421.2,789.8 428.5,791.3 436.7,792.7 455.9,795.2 481.6,797.5 520,800.1M519.6,680.6 520,680.7M520,860.4 509,862 501.3,863.4 491.2,865.9 485.2,867.8 479.7,870.3 476.1,872.7 474.2,874.4 473.4,875.6 472.8,876.8 472.6,878.1 472.6,879.3 472.9,880.5 473.5,881.7 475.5,884.2 478.8,886.6 480.9,887.8 485.2,889.9 492.6,892.5 499.9,894.6 509,896.7 520,898.7M520,742.2 485.2,743.9 461.4,745.6 442.4,747.6 434.4,748.9 426.7,750.3 419.3,752.1 413.9,753.8 407.8,756.2 403.3,758.6 399.9,761 397.6,763.5 396.1,765.9 395.6,767.5 395.3,769.6 395.6,771.7 396.1,773.2 397.5,775.7 399.8,778.1 403.1,780.5 407.5,783 412,784.9 417.5,786.8 424.8,788.7 432.2,790.3 439.5,791.6 448.6,792.9 459.6,794.2 483.4,796.5 520,799.1M520,861.9 510.1,863.4 501.7,865.2 494.4,867.1 487.7,869.5 483,872 480,874.4 479,875.6 478.4,876.8 478.1,878.1 478.1,879.3 478.4,880.5 479,881.7 481.1,884.2 484.5,886.6 489.2,889 495.6,891.5 503.5,893.8 510.9,895.5 520,897.3M520,743.2 487.1,744.9 465.1,746.5 454.1,747.6 445,748.8 436.9,750.1 430.3,751.4 423,753.2 417.3,755 412,757.1 408.4,759.1 405.4,761 402.9,763.5 401.3,765.9 400.8,767.1 400.4,769.6 400.8,772 401.2,773.2 402.9,775.7 405.4,778.1 408.4,780.2 412,782.1 416.9,784.2 423,786.2 429.3,787.9 435.8,789.3 445,790.9 463.3,793.3 487.1,795.6 520,798.1M520,863.4 512.6,864.7 503.5,866.7 497.8,868.3 492.6,870.3 489.3,872 487.4,873.2 485.9,874.4 484.9,875.6 484.1,876.8 483.8,878.1 483.7,879.3 484,880.5 484.6,881.7 485.5,882.9 486.8,884.2 488.9,885.7 492.6,887.8 498.5,890.2 503.5,891.9 511.1,893.9 520,895.8M520,744.2 488.9,745.9 466.9,747.6 448.6,749.8 439.5,751.3 433.5,752.5 426.7,754.3 421.2,756 417.5,757.5 413,759.8 409.6,762.3 407.3,764.7 406,767.1 405.6,769.6 406,772 407.3,774.5 409.6,776.9 412.9,779.3 415.7,780.9 420.4,783 426.7,785.1 432.3,786.6 439.5,788.3 446.8,789.6 465.1,792.2 487.1,794.4 520,797.1M520,865 514.5,866 507.2,867.8 501.5,869.5 498,870.9 494.4,872.8 492.1,874.4 490.9,875.6 490.1,876.8 489.6,878.1 489.5,879.3 489.8,880.5 490.4,881.7 491.3,882.9 492.6,884.2 496.2,886.5 498.8,887.8 503.5,889.7 508.9,891.5 520,894.2M520,745.2 490.7,747 468.8,748.8 457.8,750 450.5,751.1 437.6,753.5 431.7,755 426.7,756.5 421.5,758.6 417.5,760.7 415.3,762.3 412.8,764.7 411.4,767.1 410.9,769.6 411.4,772 412.8,774.5 415.3,776.9 417.5,778.5 421.3,780.5 426.7,782.8 431,784.2 437.6,786 445,787.6 452.3,788.9 468.8,791.3 490.7,793.6 520,796M520,866.7 513.1,868.3 509,869.5 502.6,872 499.9,873.4 498.5,874.4 497.1,875.6 496.2,876.8 495.7,878.1 495.5,879.3 495.8,880.5 496.2,881.4 497.3,882.9 499.9,885 502.6,886.6 505.4,887.9 510.9,889.9 520,892.5M520,746.2 492.6,748 472.4,749.7 455.9,751.8 443.1,754.1 435.8,756 431.3,757.4 426.7,759.2 423.2,761 421.2,762.3 418.5,764.7 417,767.1 416.6,768.4 416.5,769.6 416.6,770.8 417,772 418.5,774.5 421.2,776.9 423,778.1 426.7,780 430.8,781.8 435.8,783.4 443.1,785.4 455.3,787.9 471.9,790.3 494.2,792.7 520,795M520,868.7 512.9,870.7 509.7,872 507.1,873.2 505.1,874.4 503.6,875.6 502.6,876.8 501.9,878.1 501.8,879.3 502,880.5 502.6,881.7 503.6,882.9 505,884.2 506.8,885.4 511.9,887.8 520,890.5M520,747.2 496.2,748.9 476.1,750.7 461.4,752.5 448,755 442.9,756.2 437.6,757.7 432.2,759.8 429.6,761 426.7,762.8 424.5,764.7 423.4,765.9 422.7,767.1 422.3,768.4 422.2,769.6 422.3,770.8 422.7,772 423.4,773.2 425.7,775.7 428.5,777.6 431.7,779.3 435.8,781 441.3,782.9 446.2,784.2 457.6,786.6 473.1,789.1 493.8,791.5 520,794M520,871 514.5,873.1 512.1,874.4 510.4,875.6 509.2,876.8 508.5,878.1 508.2,879.3 508.4,880.5 509,881.7 510.1,882.9 511.5,884.2 515.9,886.6 520,888.2M520,748.3 495.8,750.1 477.9,751.9 463.9,753.7 451.2,756.2 442.4,758.6 437.6,760.4 433.9,762.3 432.1,763.5 430.6,764.7 429.5,765.9 428.5,767.7 428.1,769.6 428.5,771.6 429.4,773.2 431.9,775.7 433.7,776.9 437.6,779 441.5,780.5 450.5,783.3 461.4,785.7 476.1,788.1 493.9,790.3 520,792.9M520,874.1 517.5,875.6 516.2,876.8 515.3,878.1 515,879.3 515.1,880.5 515.7,881.7 516.8,882.9 518.4,884.2 520,885.1M520,749.3 495.9,751.3 479.7,753 466.6,755 454.6,757.4 446.4,759.8 443.3,761 439.5,763 437,764.7 435.8,765.9 434.9,767.1 434.4,768.4 434.2,769.6 434.4,770.8 434.8,772 435.7,773.2 437.6,775.1 440.3,776.9 442.7,778.1 446.8,779.8 455.9,782.6 468.8,785.4 481.6,787.4 498,789.5 520,791.9M520,750.4 499.9,752.2 485.8,753.7 472.4,755.7 461.4,757.8 457.8,758.8 452.3,760.5 447.8,762.3 445.6,763.5 443.7,764.7 442.4,765.9 441.3,767.3 440.8,768.4 440.6,769.6 440.8,770.8 441.3,772 442.1,773.2 443.4,774.5 445.1,775.7 448.6,777.6 452.3,779.1 460.8,781.8 471.6,784.2 486.1,786.6 503.5,788.9 520,790.8M520,751.5 501.7,753.3 487.7,755 476.1,756.8 467,758.6 458.5,761 452.8,763.5 450.8,764.7 449.2,765.9 448.2,767.1 447.5,768.4 447.3,769.6 447.4,770.8 448,772 448.9,773.2 450.3,774.5 452.1,775.7 457.1,778.1 464.4,780.5 474.4,783 487.9,785.4 503.5,787.6 520,789.6M520,752.7 503.5,754.4 490.1,756.2 479.7,757.9 471,759.8 463.2,762.3 460.4,763.5 458.1,764.7 456.4,765.9 455.2,767.1 454.5,768.4 454.2,769.6 454.4,770.8 454.9,772 455.9,773.2 457.8,774.7 461.8,776.9 464.8,778.1 470.6,780 477.6,781.8 490,784.2 505.9,786.6 520,788.4M520,753.9 505.4,755.6 492.8,757.4 483.4,759.1 475.4,761 470.6,762.6 465.9,764.7 464,765.9 462.7,767.1 461.8,768.4 461.5,769.6 461.6,770.8 462.2,772 463.3,773.2 464.8,774.5 466.9,775.7 469.5,776.9 476.6,779.3 483.4,781.1 492.4,783 507.1,785.4 520,787.2M520,755.2 509,756.6 498,758.3 489.7,759.8 483.4,761.3 477.9,763.1 474,764.7 471.9,765.9 470.4,767.1 469.5,768.4 469,769.6 469.2,770.8 469.8,772 470.9,773.2 472.6,774.5 476.1,776.3 480.9,778.1 487.1,779.9 495.3,781.8 508.7,784.2 520,785.9M520,756.6 501.7,759.4 493.8,761 489.2,762.3 485.2,763.6 482.4,764.7 480.1,765.9 478.4,767.1 477.4,768.4 476.9,769.6 477,770.8 477.6,772 478.8,773.2 481.6,775 485.8,776.9 492.6,779 498.5,780.5 510.7,783 520,784.5M520,758.1 509.4,759.8 503.4,761 494.4,763.5 491.1,764.7 488.6,765.9 486.8,767.1 485.6,768.4 485,769.6 485.2,771.1 485.7,772 486.9,773.2 488.7,774.5 490.7,775.5 494.2,776.9 497.9,778.1 505.4,780.1 520,783M520,759.7 507.8,762.3 503.5,763.5 500,764.7 497.3,765.9 495.3,767.1 494,768.4 493.4,769.6 493.4,770.8 494,772 495.2,773.2 497.1,774.5 499.5,775.7 506.5,778.1 510.9,779.3 520,781.4M520,761.6 512.7,763.5 509,764.7 506.1,765.9 504,767.1 502.6,768.4 501.9,769.6 501.8,770.8 502.4,772 503.6,773.2 505.5,774.5 508,775.7 515,778.1 520,779.5M520,764 514.9,765.9 512.7,767.1 511.2,768.4 510.4,769.6 510.3,770.8 510.8,772 512,773.2 513.9,774.5 516.4,775.7 520,777M520,768.1 518.8,769.6 518.6,770.8 519.1,772 520,772.9" fill="none" stroke="#000" stroke-width="1" shape-rendering="crispEdges" clip-path="url(#cc)"/>
<path d="M466.5,828.5H520M467.5,829.5H496M497,827.5H520" fill="none" stroke="#000" stroke-width="1" shape-rendering="crispEdges"/>
<g transform="translate(426,732.2) rotate(0)"><rect x="-12" y="-6.5" width="24" height="13" fill="#fff"/><text x="0" y="4.6" text-anchor="middle" stroke="#000" stroke-width="0.4" style="font-family:'Liberation Sans',sans-serif;font-size:13px">0.2</text></g>
<g transform="translate(443,744.6) rotate(-4)"><rect x="-12" y="-6.5" width="24" height="13" fill="#fff"/><text x="0" y="4.6" text-anchor="middle" stroke="#000" stroke-width="0.4" style="font-family:'Liberation Sans',sans-serif;font-size:13px">0.4</text></g>
<g transform="translate(469.4,755.9) rotate(-10)"><rect x="-12" y="-6.5" width="24" height="13" fill="#fff"/><text x="0" y="4.6" text-anchor="middle" stroke="#000" stroke-width="0.4" style="font-family:'Liberation Sans',sans-serif;font-size:13px">0.6</text></g>
<g transform="translate(341.4,766.2) rotate(-83)"><rect x="-12" y="-6.5" width="24" height="13" fill="#fff"/><text x="0" y="4.6" text-anchor="middle" stroke="#000" stroke-width="0.4" style="font-family:'Liberation Sans',sans-serif;font-size:13px">0.2</text></g>
<g transform="translate(421.1,788.4) rotate(14)"><rect x="-12" y="-6.5" width="24" height="13" fill="#fff"/><text x="0" y="4.6" text-anchor="middle" stroke="#000" stroke-width="0.4" style="font-family:'Liberation Sans',sans-serif;font-size:13px">0.4</text></g>
<g transform="translate(420,806.4) rotate(2)"><rect x="-12" y="-6.5" width="24" height="13" fill="#fff"/><text x="0" y="4.6" text-anchor="middle" stroke="#000" stroke-width="0.4" style="font-family:'Liberation Sans',sans-serif;font-size:13px">0.2</text></g>
<g transform="translate(464.8,851.2) rotate(-3)"><rect x="-12" y="-6.5" width="24" height="13" fill="#fff"/><text x="0" y="4.6" text-anchor="middle" stroke="#000" stroke-width="0.4" style="font-family:'Liberation Sans',sans-serif;font-size:13px">0.2</text></g>
<g transform="translate(500.1,861.8) rotate(-10)"><rect x="-12" y="-6.5" width="24" height="13" fill="#fff"/><text x="0" y="4.6" text-anchor="middle" stroke="#000" stroke-width="0.4" style="font-family:'Liberation Sans',sans-serif;font-size:13px">0.4</text></g>
<circle cx="369.9" cy="695.2" r="2.6" fill="#e0141c"/>
<rect x="300.4" y="680.6" width="219.60000000000002" height="219.39999999999998" fill="none" stroke="#000" stroke-width="2" shape-rendering="crispEdges"/>
<path d="M300.5,672.6V680.6M300.5,900.0V908.0M307.5,676.6V680.6M307.5,900.0V904.0M315.5,676.6V680.6M315.5,900.0V904.0M322.5,676.6V680.6M322.5,900.0V904.0M329.5,676.6V680.6M329.5,900.0V904.0M336.5,672.6V680.6M336.5,900.0V908.0M344.5,676.6V680.6M344.5,900.0V904.0M351.5,676.6V680.6M351.5,900.0V904.0M358.5,676.6V680.6M358.5,900.0V904.0M366.5,676.6V680.6M366.5,900.0V904.0M373.5,672.6V680.6M373.5,900.0V908.0M380.5,676.6V680.6M380.5,900.0V904.0M388.5,676.6V680.6M388.5,900.0V904.0M395.5,676.6V680.6M395.5,900.0V904.0M402.5,676.6V680.6M402.5,900.0V904.0M410.5,672.6V680.6M410.5,900.0V908.0M417.5,676.6V680.6M417.5,900.0V904.0M424.5,676.6V680.6M424.5,900.0V904.0M432.5,676.6V680.6M432.5,900.0V904.0M439.5,676.6V680.6M439.5,900.0V904.0M446.5,672.6V680.6M446.5,900.0V908.0M454.5,676.6V680.6M454.5,900.0V904.0M461.5,676.6V680.6M461.5,900.0V904.0M468.5,676.6V680.6M468.5,900.0V904.0M476.5,676.6V680.6M476.5,900.0V904.0M483.5,672.6V680.6M483.5,900.0V908.0M490.5,676.6V680.6M490.5,900.0V904.0M498.5,676.6V680.6M498.5,900.0V904.0M505.5,676.6V680.6M505.5,900.0V904.0M512.5,676.6V680.6M512.5,900.0V904.0M520.5,672.6V680.6M520.5,900.0V908.0M292.4,680.5H300.4M520.0,680.5H528.0M296.4,692.5H300.4M520.0,692.5H524.0M296.4,704.5H300.4M520.0,704.5H524.0M292.4,717.5H300.4M520.0,717.5H528.0M296.4,729.5H300.4M520.0,729.5H524.0M296.4,741.5H300.4M520.0,741.5H524.0M292.4,753.5H300.4M520.0,753.5H528.0M296.4,765.5H300.4M520.0,765.5H524.0M296.4,778.5H300.4M520.0,778.5H524.0M292.4,790.5H300.4M520.0,790.5H528.0M296.4,802.5H300.4M520.0,802.5H524.0M296.4,814.5H300.4M520.0,814.5H524.0M292.4,826.5H300.4M520.0,826.5H528.0M296.4,839.5H300.4M520.0,839.5H524.0M296.4,851.5H300.4M520.0,851.5H524.0M292.4,863.5H300.4M520.0,863.5H528.0M296.4,875.5H300.4M520.0,875.5H524.0M296.4,887.5H300.4M520.0,887.5H524.0M292.4,900.5H300.4M520.0,900.5H528.0" stroke="#000" stroke-width="1" fill="none" shape-rendering="crispEdges"/>
<text x="288" y="928.2" xml:space="preserve" text-anchor="start" fill="#000" stroke="#000" stroke-width="0.42" style="font-family:'Liberation Sans',sans-serif;font-size:16.4px;white-space:pre" textLength="26.4" lengthAdjust="spacingAndGlyphs">0.0</text>
<text x="324.6" y="928.2" xml:space="preserve" text-anchor="start" fill="#000" stroke="#000" stroke-width="0.42" style="font-family:'Liberation Sans',sans-serif;font-size:16.4px;white-space:pre" textLength="26.4" lengthAdjust="spacingAndGlyphs">0.5</text>
<text x="361.2" y="928.2" xml:space="preserve" text-anchor="start" fill="#000" stroke="#000" stroke-width="0.42" style="font-family:'Liberation Sans',sans-serif;font-size:16.4px;white-space:pre" textLength="26.4" lengthAdjust="spacingAndGlyphs">1.0</text>
<text x="397.8" y="928.2" xml:space="preserve" text-anchor="start" fill="#000" stroke="#000" stroke-width="0.42" style="font-family:'Liberation Sans',sans-serif;font-size:16.4px;white-space:pre" textLength="26.4" lengthAdjust="spacingAndGlyphs">1.5</text>
<text x="434.4" y="928.2" xml:space="preserve" text-anchor="start" fill="#000" stroke="#000" stroke-width="0.42" style="font-family:'Liberation Sans',sans-serif;font-size:16.4px;white-space:pre" textLength="26.4" lengthAdjust="spacingAndGlyphs">2.0</text>
<text x="471" y="928.2" xml:space="preserve" text-anchor="start" fill="#000" stroke="#000" stroke-width="0.42" style="font-family:'Liberation Sans',sans-serif;font-size:16.4px;white-space:pre" textLength="26.4" lengthAdjust="spacingAndGlyphs">2.5</text>
<text x="507.6" y="928.2" xml:space="preserve" text-anchor="start" fill="#000" stroke="#000" stroke-width="0.42" style="font-family:'Liberation Sans',sans-serif;font-size:16.4px;white-space:pre" textLength="26.4" lengthAdjust="spacingAndGlyphs">3.0</text>
<text x="264.7" y="686.3" xml:space="preserve" text-anchor="start" fill="#000" stroke="#000" stroke-width="0.42" style="font-family:'Liberation Sans',sans-serif;font-size:16.4px;white-space:pre" textLength="21.1" lengthAdjust="spacingAndGlyphs">90</text>
<text x="264.7" y="722.9" xml:space="preserve" text-anchor="start" fill="#000" stroke="#000" stroke-width="0.42" style="font-family:'Liberation Sans',sans-serif;font-size:16.4px;white-space:pre" textLength="21.1" lengthAdjust="spacingAndGlyphs">60</text>
<text x="264.7" y="759.4" xml:space="preserve" text-anchor="start" fill="#000" stroke="#000" stroke-width="0.42" style="font-family:'Liberation Sans',sans-serif;font-size:16.4px;white-space:pre" textLength="21.1" lengthAdjust="spacingAndGlyphs">30</text>
<text x="275.2" y="796" xml:space="preserve" text-anchor="start" fill="#000" stroke="#000" stroke-width="0.42" style="font-family:'Liberation Sans',sans-serif;font-size:16.4px;white-space:pre" textLength="10.6" lengthAdjust="spacingAndGlyphs">0</text>
<text x="258.3" y="832.6" xml:space="preserve" text-anchor="start" fill="#000" stroke="#000" stroke-width="0.42" style="font-family:'Liberation Sans',sans-serif;font-size:16.4px;white-space:pre" textLength="27.5" lengthAdjust="spacingAndGlyphs">-30</text>
<text x="258.3" y="869.1" xml:space="preserve" text-anchor="start" fill="#000" stroke="#000" stroke-width="0.42" style="font-family:'Liberation Sans',sans-serif;font-size:16.4px;white-space:pre" textLength="27.5" lengthAdjust="spacingAndGlyphs">-60</text>
<text x="258.3" y="905.7" xml:space="preserve" text-anchor="start" fill="#000" stroke="#000" stroke-width="0.42" style="font-family:'Liberation Sans',sans-serif;font-size:16.4px;white-space:pre" textLength="27.5" lengthAdjust="spacingAndGlyphs">-90</text>
<text x="387" y="956.4" xml:space="preserve" text-anchor="start" fill="#000" stroke="#000" stroke-width="0.42" style="font-family:'Liberation Serif',serif;font-weight:bold;font-size:16.3px;white-space:pre" textLength="48.2" lengthAdjust="spacingAndGlyphs">Lag (s)</text>
<text transform="translate(264.3,854.2) rotate(-90)" textLength="129" lengthAdjust="spacingAndGlyphs" style="font-family:'Liberation Serif',serif;font-weight:bold;font-size:16.4px">Azimuth (degrees)</text>
<text x="288.6" y="669" xml:space="preserve" textLength="242.2" lengthAdjust="spacingAndGlyphs" style="font-family:'Liberation Serif',serif;font-weight:bold;font-size:15.3px;white-space:pre"><tspan style="font-weight:normal">&#981;</tspan>= 78. +/- 12.deg. <tspan style="font-weight:normal">&#948;t</tspan>= 0.95 +/-0.47s</text>
<text x="207.2" y="980.2" xml:space="preserve" text-anchor="start" fill="#000" stroke="#000" stroke-width="0.42" style="font-family:'Liberation Sans',sans-serif;font-size:17.8px;white-space:pre" textLength="409" lengthAdjust="spacingAndGlyphs">Ror=12.82; Rot= 4.82; Rct= 3.47; Rct/Rot= 0.72</text>
</svg>
</body></html>
